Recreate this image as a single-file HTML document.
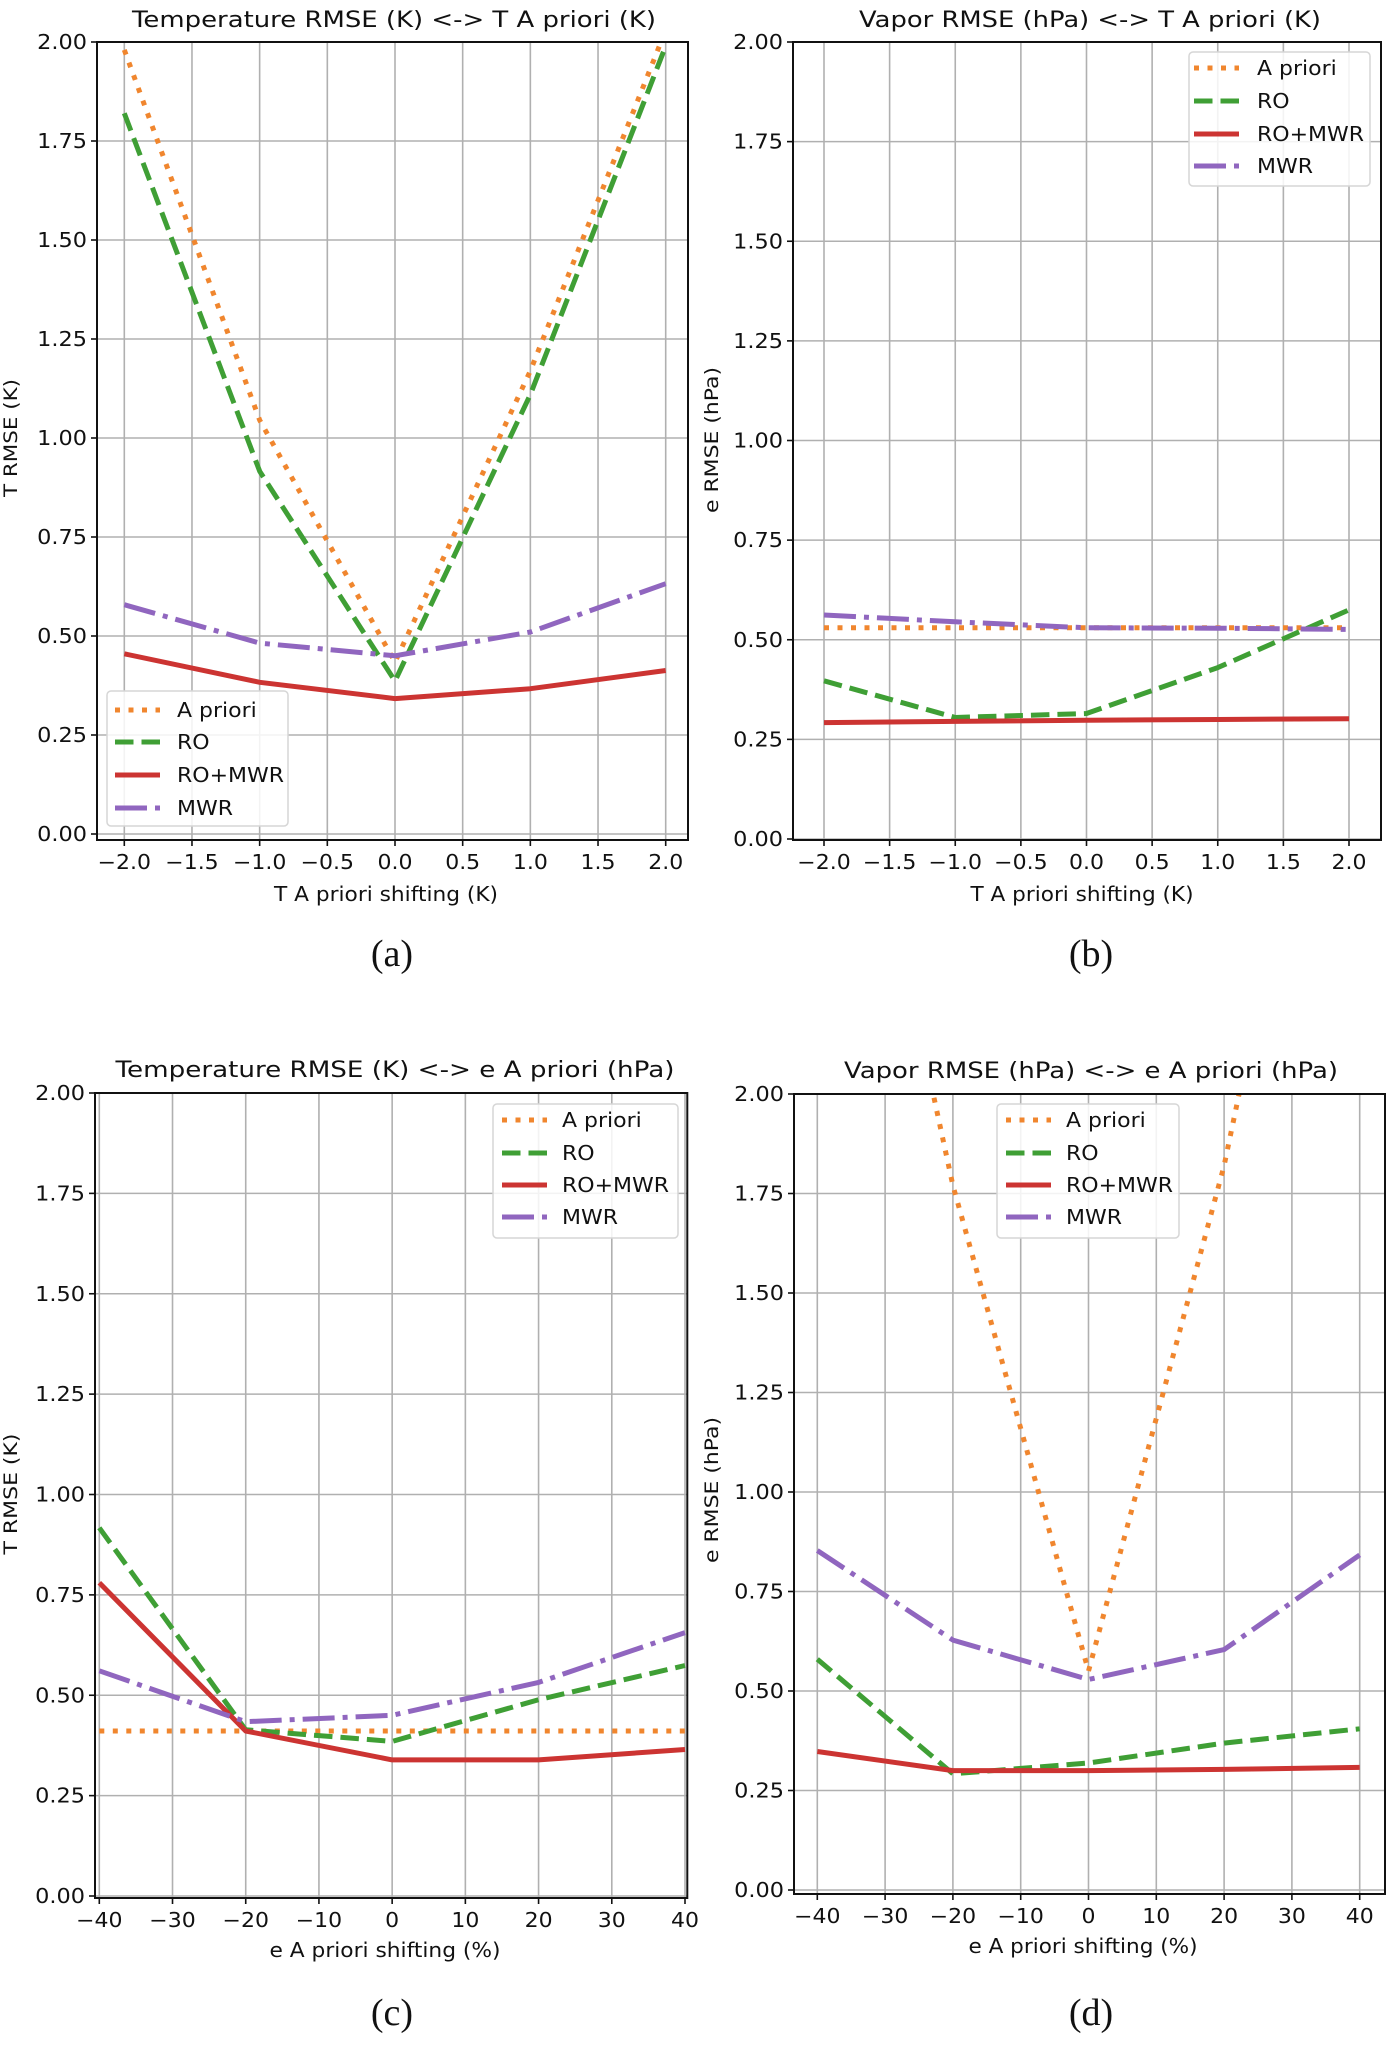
<!DOCTYPE html>
<html><head><meta charset="utf-8"><style>
html,body{margin:0;padding:0;background:#fff;}
svg{display:block;}
text{font-family:"DejaVu Sans","Liberation Sans",sans-serif;fill:#111;}
.pl{font-family:"Liberation Serif",serif;}
</style></head><body>
<svg id="fig" width="1388" height="2051" viewBox="0 0 1388 2051" xmlns="http://www.w3.org/2000/svg"></svg>
<script>
// ---------- data ----------
const xT = [-2, -1, 0, 1, 2];
const xE = [-40, -20, 0, 20, 40];
const xTicksT = [-2, -1.5, -1, -0.5, 0, 0.5, 1, 1.5, 2];
const xTickLabelsT = ["\u22122.0","\u22121.5","\u22121.0","\u22120.5","0.0","0.5","1.0","1.5","2.0"];
const xTicksE = [-40, -30, -20, -10, 0, 10, 20, 30, 40];
const xTickLabelsE = ["\u221240","\u221230","\u221220","\u221210","0","10","20","30","40"];
const yTicks = [0, 0.25, 0.5, 0.75, 1, 1.25, 1.5, 1.75, 2];
const yTickLabels = ["0.00","0.25","0.50","0.75","1.00","1.25","1.50","1.75","2.00"];
const seriesNames = ["A priori", "RO", "RO+MWR", "MWR"];

// panel a
const aApriori = [1.98, 1.045, 0.434, 1.17, 2.03];
const aRO      = [1.82, 0.916, 0.386, 1.11, 1.99];
const aROMWR   = [0.455, 0.383, 0.342, 0.367, 0.413];
const aMWR     = [0.579, 0.482, 0.45, 0.51, 0.632];
// panel b
const bApriori = [0.53, 0.53, 0.53, 0.53, 0.53];
const bRO      = [0.397, 0.305, 0.315, 0.43, 0.575];
const bROMWR   = [0.292, 0.295, 0.298, 0.300, 0.302];
const bMWR     = [0.562, 0.545, 0.530, 0.529, 0.526];
// panel c
const cApriori = [0.411, 0.411, 0.411, 0.411, 0.411];
const cRO      = [0.917, 0.414, 0.385, 0.489, 0.574];
const cROMWR   = [0.78, 0.411, 0.339, 0.339, 0.365];
const cMWR     = [0.561, 0.434, 0.45, 0.532, 0.656];
// panel d
const dApriori = [3.35, 1.77, 0.55, 1.82, 3.45];
const dRO      = [0.58, 0.292, 0.319, 0.369, 0.405];
const dROMWR   = [0.348, 0.30, 0.30, 0.303, 0.308];
const dMWR     = [0.853, 0.628, 0.529, 0.604, 0.842];

// ---------- styles ----------
const colors = ["#f0862e", "#3f9f35", "#cc3432", "#9066bf"];
const dashes = ["5,8.5", "18.5,8", "", "32,8,5,8"];
const LW = 5;
const NS = "http://www.w3.org/2000/svg";
const svg = document.getElementById("fig");

function el(tag, attrs, parent) {
  const e = document.createElementNS(NS, tag);
  for (const k in attrs) e.setAttribute(k, attrs[k]);
  (parent || svg).appendChild(e);
  return e;
}
function txt(parent, s, x, y, size, anchor, len, extra) {
  const t = el("text", {x: x, y: y, "font-size": size, "text-anchor": anchor || "middle"}, parent);
  if (len) { t.setAttribute("textLength", len); t.setAttribute("lengthAdjust", "spacingAndGlyphs"); }
  if (extra) for (const k in extra) t.setAttribute(k, extra[k]);
  t.textContent = s;
  return t;
}

const panels = [
  {id:"a", L:97, R:688, T:42, B:840, x0:-2, px0:124.3, x1:2, px1:665.7, y0px:834, y2px:42,
   xs:xT, xticks:xTicksT, xlabels:xTickLabelsT, data:[aApriori,aRO,aROMWR,aMWR],
   title:"Temperature RMSE (K) <-> T A priori (K)", tcx:394, tlen:524, ty:27,
   xlab:"T A priori shifting (K)", xlx:386, xllen:224, xly:901,
   ylab:"T RMSE (K)", ylx:17, yly:438, yllen:118,
   leg:{x:107,y:691,w:181,h:135,hx:115,tx:177,rows:[710,742,775,808]},
   plab:"(a)", plx:392, ply:966},
  {id:"b", L:793, R:1381, T:42, B:840, x0:-2, px0:824, x1:2, px1:1349, y0px:839, y2px:42,
   xs:xT, xticks:xTicksT, xlabels:xTickLabelsT, data:[bApriori,bRO,bROMWR,bMWR],
   title:"Vapor RMSE (hPa) <-> T A priori (K)", tcx:1090, tlen:462, ty:27,
   xlab:"T A priori shifting (K)", xlx:1082, xllen:223, xly:901,
   ylab:"e RMSE (hPa)", ylx:718, yly:440, yllen:146,
   leg:{x:1189,y:52,w:181,h:134,hx:1194,tx:1257,rows:[68,101,134,166]},
   plab:"(b)", plx:1091, ply:966},
  {id:"c", L:95, R:687.3, T:1093, B:1898, x0:-40, px0:99.3, x1:40, px1:685, y0px:1896, y2px:1093,
   xs:xE, xticks:xTicksE, xlabels:xTickLabelsE, data:[cApriori,cRO,cROMWR,cMWR],
   title:"Temperature RMSE (K) <-> e A priori (hPa)", tcx:395, tlen:559, ty:1077,
   xlab:"e A priori shifting (%)", xlx:385, xllen:231, xly:1957,
   ylab:"T RMSE (K)", ylx:17, yly:1494, yllen:121,
   leg:{x:493,y:1104,w:185,h:134,hx:502,tx:562,rows:[1120,1153,1185,1217]},
   plab:"(c)", plx:392, ply:2025},
  {id:"d", L:794, R:1385, T:1094, B:1894, x0:-40, px0:817.3, x1:40, px1:1359.7, y0px:1890, y2px:1094,
   xs:xE, xticks:xTicksE, xlabels:xTickLabelsE, data:[dApriori,dRO,dROMWR,dMWR],
   title:"Vapor RMSE (hPa) <-> e A priori (hPa)", tcx:1091, tlen:494, ty:1078,
   xlab:"e A priori shifting (%)", xlx:1083, xllen:229, xly:1953,
   ylab:"e RMSE (hPa)", ylx:718, yly:1490, yllen:146,
   leg:{x:997,y:1104,w:182,h:134,hx:1006,tx:1066,rows:[1120,1153,1185,1217]},
   plab:"(d)", plx:1091, ply:2025}
];

panels.forEach(p => {
  const g = el("g", {});
  
  
  const sx = v => p.px0 + (v - p.x0) * (p.px1 - p.px0) / (p.x1 - p.x0);
  const sy = v => p.y0px - v * (p.y0px - p.y2px) / 2;

  el("rect", {x:p.L, y:p.T, width:p.R-p.L, height:p.B-p.T, fill:"#fff"}, g);
  const grid = el("g", {stroke:"#b0b0b0", "stroke-width":1.6}, g);
  
  
  p.xticks.forEach(v => el("line", {x1:sx(v), x2:sx(v), y1:p.T, y2:p.B}, grid));
  yTicks.forEach(v => el("line", {x1:p.L, x2:p.R, y1:sy(v), y2:sy(v)}, grid));

  const cp = el("clipPath", {id:"clip-" + p.id}, g);
  el("rect", {x:p.L, y:p.T, width:p.R-p.L, height:p.B-p.T}, cp);
  const lines = el("g", {"clip-path":"url(#clip-" + p.id + ")"}, g);
  p.data.forEach((arr, i) => {
    const d = arr.map((v, k) => (k ? "L" : "M") + sx(p.xs[k]).toFixed(1) + "," + sy(v).toFixed(1)).join(" ");
    const path = el("path", {d:d, fill:"none", stroke:colors[i], "stroke-width":LW, "stroke-dasharray":dashes[i] || "none", "stroke-linejoin":"round"}, lines);
    
    
  });

  el("rect", {x:p.L, y:p.T, width:p.R-p.L, height:p.B-p.T, fill:"none", stroke:"#111", "stroke-width":2}, g);

  const xt = el("g", {}, g);
  
  
  p.xticks.forEach((v, k) => {
    el("line", {x1:sx(v), x2:sx(v), y1:p.B, y2:p.B+6, stroke:"#111", "stroke-width":1.6}, xt);
    const tg = el("g", {transform:"translate(" + sx(v) + "," + (p.B+29) + ") scale(1.1,1)"}, xt);
    txt(tg, p.xlabels[k], 0, 0, 20, "middle");
  });
  const yt = el("g", {}, g);
  
  
  yTicks.forEach((v, k) => {
    el("line", {x1:p.L-6, x2:p.L, y1:sy(v), y2:sy(v), stroke:"#111", "stroke-width":1.6}, yt);
    const tg = el("g", {transform:"translate(" + (p.L-10) + "," + (sy(v)+7) + ") scale(1.12,1)"}, yt);
    txt(tg, yTickLabels[k], 0, 0, 20, "end");
  });

  const t = txt(g, p.title, p.tcx, p.ty, 22, "middle", p.tlen);
  
  
  const xl = txt(g, p.xlab, p.xlx, p.xly, 20, "middle", p.xllen);
  
  
  const yl = txt(g, p.ylab, 0, 0, 19, "middle", p.yllen, {transform:"translate(" + p.ylx + "," + p.yly + ") rotate(-90)"});
  
  
  const pl = txt(g, p.plab, p.plx, p.ply, 38, "middle", null, {class:"pl"});
  
  

  const lg = el("g", {}, g);
  
  
  const L = p.leg;
  el("rect", {x:L.x, y:L.y, width:L.w, height:L.h, rx:4, fill:"#fff", "fill-opacity":0.85, stroke:"#d6d6d6", "stroke-width":1.5}, lg);
  seriesNames.forEach((n, i) => {
    const e = el("g", {}, lg);
    
    
    el("line", {x1:L.hx, x2:L.hx+45, y1:L.rows[i], y2:L.rows[i], stroke:colors[i], "stroke-width":LW, "stroke-dasharray":dashes[i] || "none"}, e);
    const tg = el("g", {transform:"translate(" + L.tx + "," + (L.rows[i]+7) + ") scale(1.1,1)"}, e);
    txt(tg, n, 0, 0, 20, "start");
  });
});
</script>
</body></html>
